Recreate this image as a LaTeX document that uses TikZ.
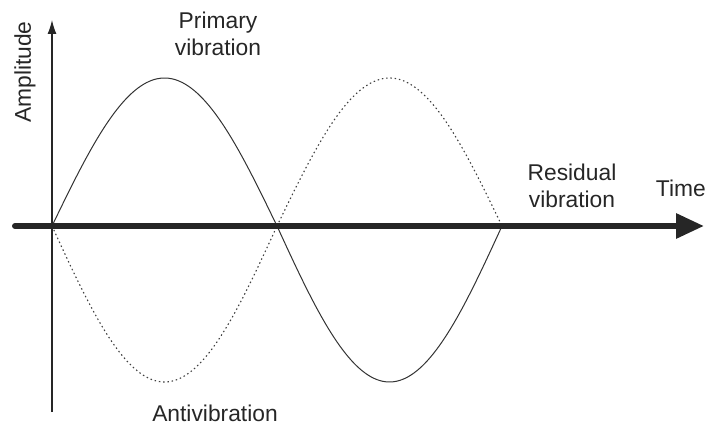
\documentclass[tikz,border=0pt]{standalone}
\usepackage{fontspec}
\setmainfont{Liberation Sans}
\usetikzlibrary{arrows.meta}
\begin{document}
\begin{tikzpicture}[x=1pt,y=-1pt,
  lbl/.style={font=\fontsize{22.8}{27}\selectfont, text=black!85, align=center, inner sep=0pt},
  wave/.style={line width=1pt, black!80},
  dwave/.style={line width=1.1pt, black!75, dash pattern=on 1.5pt off 2.8pt}]
\useasboundingbox (0,0) rectangle (707,425);
% vertical axis
\coordinate (vb) at (52,412);
\coordinate (vt) at (52,20);
\draw[line width=1.2pt, black!85, -{Latex[length=14pt,width=9pt]}] (vb) -- (vt);
% waves
\draw[wave] plot[domain=52:277, samples=80] (\x,{226-148*sin((\x-52)/225*180)});
\draw[wave] plot[domain=277:502, samples=80] (\x,{226+156*sin((\x-277)/225*180)});
\draw[dwave] plot[domain=52:277, samples=80] (\x,{226+156*sin((\x-52)/225*180)});
\draw[dwave] plot[domain=277:502, samples=80] (\x,{226-148*sin((\x-277)/225*180)});
% horizontal axis
\coordinate (hl) at (15,226);
\coordinate (hr) at (704,226);
\draw[line width=6pt, black!85, line cap=round, -{Triangle[length=28pt,width=24pt]}] (hl) -- (hr);
% labels
\node[lbl, rotate=90] (amp) at (25,72) {Amplitude};
\node[lbl] (prim) at (218,34) {Primary\\vibration};
\node[lbl] (res) at (572,186) {Residual\\vibration};
\node[lbl, anchor=east] (time) at (706,188) {Time};
\node[lbl] (anti) at (215,413) {Antivibration};
\end{tikzpicture}
\end{document}
